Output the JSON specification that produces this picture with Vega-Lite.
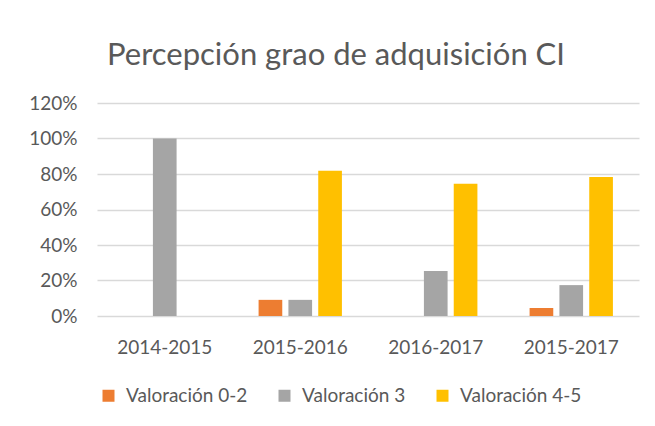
{
  "$schema": "https://vega.github.io/schema/vega-lite/v6.json",
  "autosize": {"type": "none"},
  "padding": {"left": 97, "top": 103, "right": 16, "bottom": 110},
  "width": 542,
  "height": 213,
  "background": "white",
  "title": {
    "text": "Percepción grao de adquisición CI",
    "anchor": "middle",
    "frame": "group",
    "dx": -32,
    "fontSize": 31,
    "font": "Lato",
    "fontWeight": "normal",
    "color": "#595959",
    "offset": 22
  },
  "data": {
    "values": [
      {"periodo": "2014-2015", "serie": "Valoración 0-2", "valor": 0},
      {"periodo": "2014-2015", "serie": "Valoración 3", "valor": 1.0},
      {"periodo": "2014-2015", "serie": "Valoración 4-5", "valor": 0},
      {"periodo": "2015-2016", "serie": "Valoración 0-2", "valor": 0.091},
      {"periodo": "2015-2016", "serie": "Valoración 3", "valor": 0.091},
      {"periodo": "2015-2016", "serie": "Valoración 4-5", "valor": 0.818},
      {"periodo": "2016-2017", "serie": "Valoración 0-2", "valor": 0},
      {"periodo": "2016-2017", "serie": "Valoración 3", "valor": 0.253},
      {"periodo": "2016-2017", "serie": "Valoración 4-5", "valor": 0.745},
      {"periodo": "2015-2017", "serie": "Valoración 0-2", "valor": 0.045},
      {"periodo": "2015-2017", "serie": "Valoración 3", "valor": 0.174},
      {"periodo": "2015-2017", "serie": "Valoración 4-5", "valor": 0.783}
    ]
  },
  "mark": {"type": "bar"},
  "encoding": {
    "x": {
      "field": "periodo",
      "type": "nominal",
      "sort": ["2014-2015", "2015-2016", "2016-2017", "2015-2017"],
      "scale": {"paddingInner": 0.385, "paddingOuter": 0.1925},
      "axis": {
        "title": null,
        "labelAngle": 0,
        "ticks": false,
        "domain": false,
        "labelPadding": 22,
        "labelFontSize": 19,
        "labelFont": "Lato",
        "labelColor": "#595959"
      }
    },
    "xOffset": {
      "field": "serie",
      "type": "nominal",
      "sort": ["Valoración 0-2", "Valoración 3", "Valoración 4-5"],
      "scale": {"paddingInner": 0.206, "paddingOuter": 0}
    },
    "y": {
      "field": "valor",
      "type": "quantitative",
      "scale": {"domain": [0, 1.2]},
      "axis": {
        "title": null,
        "values": [0, 0.2, 0.4, 0.6, 0.8, 1, 1.2],
        "format": ".0%",
        "ticks": false,
        "domain": false,
        "labelPadding": 20,
        "labelFontSize": 19,
        "labelFont": "Lato",
        "labelColor": "#595959",
        "gridColor": "#D9D9D9",
        "gridWidth": 1.5
      }
    },
    "color": {
      "field": "serie",
      "type": "nominal",
      "scale": {
        "domain": ["Valoración 0-2", "Valoración 3", "Valoración 4-5"],
        "range": ["#ED7D31", "#A5A5A5", "#FFC000"]
      },
      "legend": {
        "title": null,
        "orient": "none",
        "legendX": 2,
        "legendY": 283,
        "direction": "horizontal",
        "symbolType": "square",
        "symbolSize": 144,
        "symbolStrokeWidth": 0,
        "labelOffset": 8,
        "columnPadding": 27,
        "labelFontSize": 19,
        "labelFont": "Lato",
        "labelColor": "#595959"
      }
    }
  },
  "config": {"view": {"stroke": null}}
}
